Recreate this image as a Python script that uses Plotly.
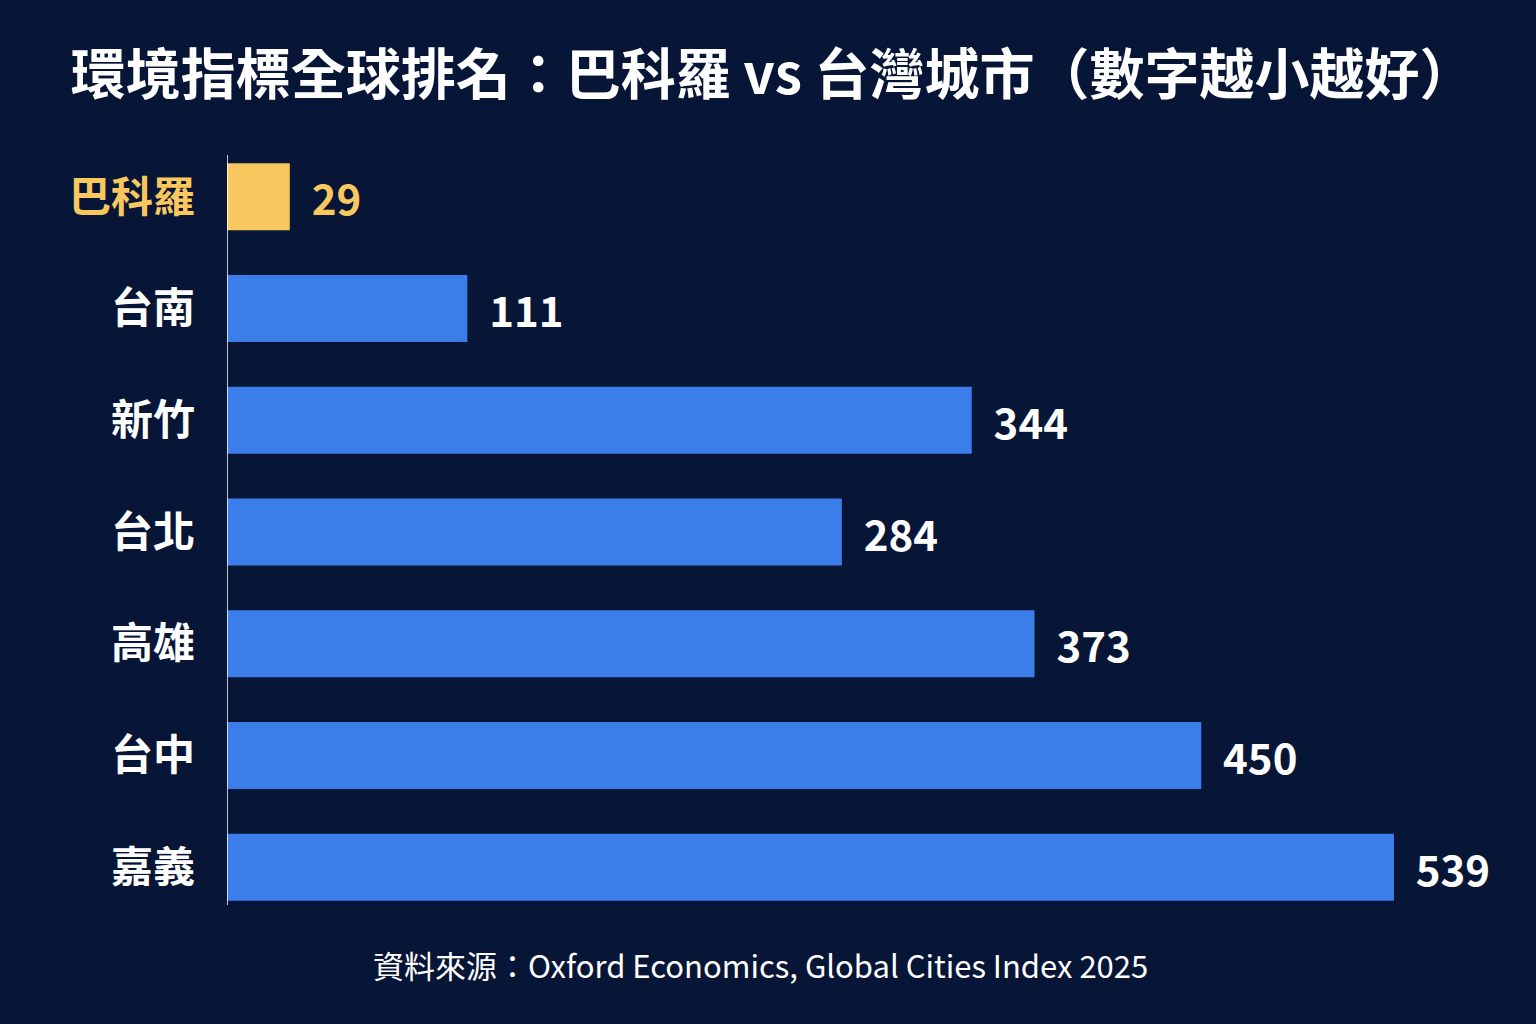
import plotly.graph_objects as go

cities = ["巴科羅", "台南", "新竹", "台北", "高雄", "台中", "嘉義"]
ranks = [29, 111, 344, 284, 373, 450, 539]
title = "環境指標全球排名：巴科羅 vs 台灣城市（數字越小越好）"
source = "資料來源：Oxford Economics, Global Cities Index 2025"

GOLD = "#f8c85e"
BLUE = "#3b7eea"
BG = "#071536"

colors = [GOLD if c == "巴科羅" else BLUE for c in cities]
text_colors = [GOLD if c == "巴科羅" else "white" for c in cities]
ticktext = [f'<span style="color:{GOLD}">{c}</span>' if c == "巴科羅" else c for c in cities]

fig = go.Figure(go.Bar(
    x=ranks, y=cities, orientation="h",
    marker=dict(color=colors, line=dict(width=0)),
    width=0.6,
    text=[f"\u00a0\u00a0<b>{v}</b>" for v in ranks],
    textposition="outside",
    textfont=dict(family="Noto Sans CJK TC", size=42, color=text_colors),
    cliponaxis=False,
))

fig.update_layout(
    width=1536, height=1024,
    paper_bgcolor=BG, plot_bgcolor=BG,
    margin=dict(l=227, r=10, t=141, b=101),
    showlegend=False,
    title=dict(text=f"<b>{title}</b>", x=0.503, xanchor="center", y=0.927, yanchor="middle",
               font=dict(family="Noto Sans CJK TC", size=55, color="white")),
    xaxis=dict(range=[0, 600], visible=False, showgrid=False, zeroline=False),
    yaxis=dict(autorange="reversed", tickmode="array", tickvals=cities,
               ticktext=[f"<b>{t}</b>" for t in ticktext],
               tickfont=dict(family="Noto Sans CJK TC", size=42, color="white"),
               showline=False, showgrid=False, zeroline=False, ticks="",
               ticklabelstandoff=31),
    shapes=[dict(type="line", xref="x", yref="paper", x0=0, x1=0,
                 y0=(923 - 905) / (923 - 141), y1=(923 - 155) / (923 - 141),
                 line=dict(color="white", width=1.5))],
    annotations=[dict(text=source, xref="paper", xanchor="center",
                      x=(760 - 227) / (1526 - 227),
                      y=-(965 - 923) / (923 - 141), yref="paper", yanchor="middle",
                      showarrow=False,
                      font=dict(family="Noto Sans CJK TC", size=31, color="white"))],
)

fig.write_html("out.html")
